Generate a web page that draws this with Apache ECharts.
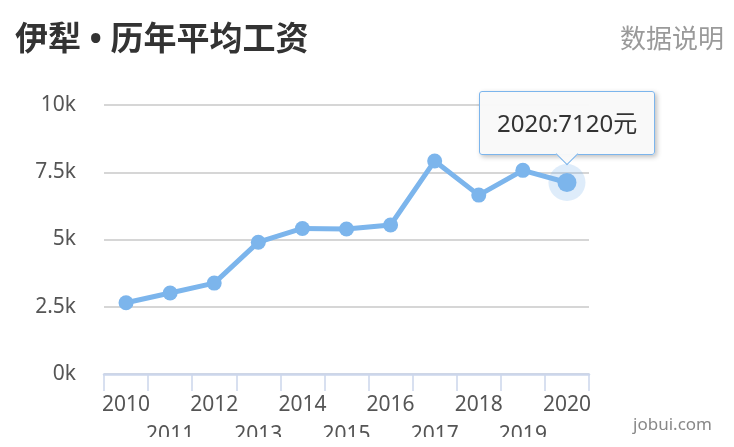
<!DOCTYPE html>
<html>
<head>
<meta charset="utf-8">
<script src="https://cdn.jsdelivr.net/npm/echarts@6/dist/echarts.min.js"></script>
<style>
html,body{margin:0;padding:0;background:#fff;width:734px;height:447px;overflow:hidden;}
#main{width:734px;height:437px;}
.tip > div{width:15px !important;height:15px !important;bottom:-8px !important;}
</style>
</head>
<body>
<div id="main"></div>
<script>
const titleText = '伊犁 • 历年平均工资';
const linkText = '数据说明';
const sourceText = 'jobui.com';
const years = ['2010','2011','2012','2013','2014','2015','2016','2017','2018','2019','2020'];
const salaries = [2650, 3010, 3380, 4900, 5410, 5390, 5540, 7920, 6650, 7570, 7120];
const unit = '元';
const highlightIndex = 10;

const chart = echarts.init(document.getElementById('main'), null, {renderer: 'canvas'});
const latin = "'Noto Sans', 'Noto Sans CJK SC', sans-serif";
const cjk = "'Noto Sans CJK SC', 'Noto Sans', sans-serif";

chart.setOption({
  animation: false,
  backgroundColor: '#fff',
  title: [
    {text: titleText, left: 10, top: 19,
     textStyle: {fontFamily: latin, fontSize: 33, fontWeight: 'bold', color: '#333'}},
    {text: linkText, right: 5, top: 20,
     textStyle: {fontFamily: cjk, fontSize: 26, fontWeight: 'normal', color: '#9a9a9a'}},
    {text: sourceText, right: 17, top: 412,
     textStyle: {fontFamily: latin, fontSize: 17, fontWeight: 'normal', color: '#888'}}
  ],
  grid: {left: 104, right: 145, top: 105, bottom: 63, containLabel: false, outerBoundsMode: 'none'},
  tooltip: {
    trigger: 'item',
    triggerOn: 'none',
    alwaysShowContent: true,
    transitionDuration: 0,
    position: 'top',
    className: 'tip',
    backgroundColor: 'rgba(249,249,249,0.97)',
    borderColor: '#7cb5ec',
    borderWidth: 1,
    padding: [13, 17],
    textStyle: {fontFamily: latin, fontSize: 24, color: '#333'},
    extraCssText: 'box-shadow: 2px 2px 5px rgba(0,0,0,0.25); border-radius: 3px; margin-top:-8px;',
    formatter: function (p) { return p.name + ':' + p.value + unit; }
  },
  xAxis: {
    type: 'category',
    data: years,
    boundaryGap: true,
    axisLine: {lineStyle: {color: '#ccd6eb', width: 2.5}},
    axisTick: {show: true, length: 17, lineStyle: {color: '#ccd6eb', width: 1.5}},
    axisLabel: {
      interval: 0,
      margin: 16,
      fontFamily: latin,
      fontSize: 21,
      lineHeight: 30,
      color: '#555',
      formatter: function (v, i) { return i % 2 === 1 ? '\n' + v : v; }
    },
    splitLine: {show: false}
  },
  yAxis: {
    type: 'value',
    min: 0,
    max: 10000,
    interval: 2500,
    axisLine: {show: false},
    axisTick: {show: false},
    axisLabel: {
      margin: 28,
      fontFamily: latin,
      fontSize: 21,
      color: '#555',
      formatter: function (v) { return (v / 1000) + 'k'; }
    },
    splitLine: {lineStyle: {color: '#c8c8c8', width: 1.5}}
  },
  series: [{
    type: 'line',
    data: salaries,
    symbol: 'circle',
    symbolSize: function (v, p) { return p.dataIndex === highlightIndex ? 19 : 15; },
    lineStyle: {color: '#7cb5ec', width: 5},
    itemStyle: {color: '#7cb5ec', borderColor: '#7cb5ec', borderWidth: 0},
    markPoint: {
      z: 1,
      silent: true,
      symbol: 'circle',
      symbolSize: 37,
      itemStyle: {color: 'rgba(124,181,236,0.25)'},
      label: {show: false},
      data: [{coord: [years[highlightIndex], salaries[highlightIndex]]}]
    }
  }]
});

chart.dispatchAction({type: 'showTip', seriesIndex: 0, dataIndex: highlightIndex});
</script>
</body>
</html>
